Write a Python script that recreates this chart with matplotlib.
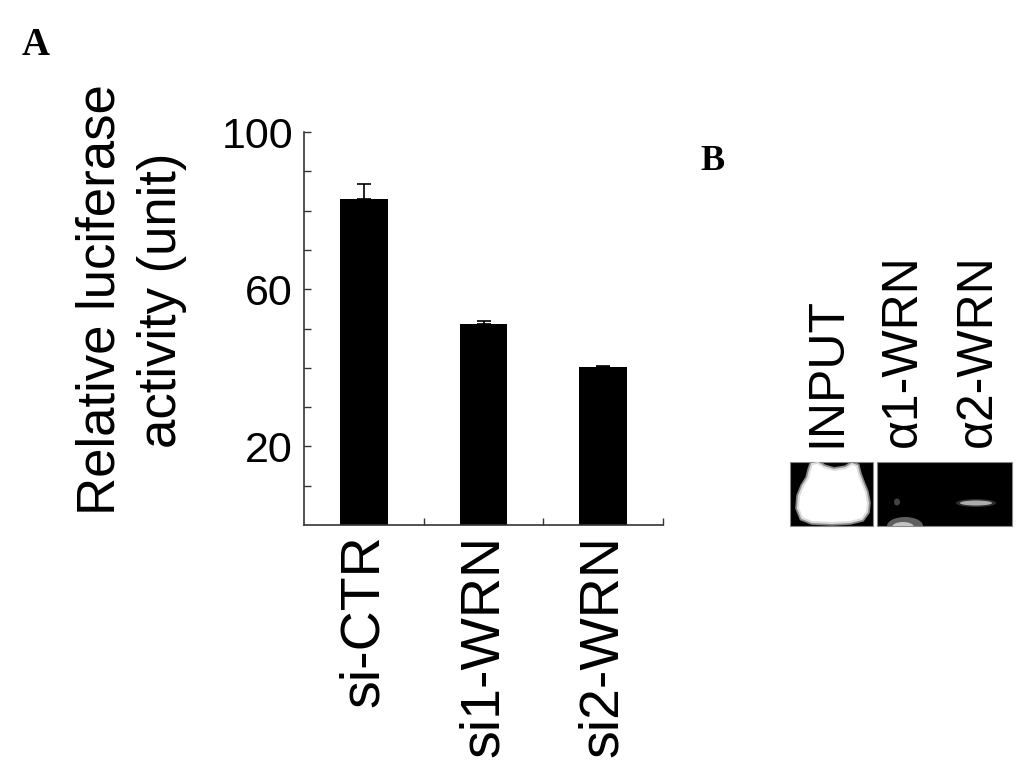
import numpy as np
import matplotlib
matplotlib.use("Agg")
import matplotlib.pyplot as plt
from matplotlib.patches import Rectangle, Polygon, Ellipse

# Panel A data
groups = ["si-CTR", "si1-WRN", "si2-WRN"]
activity = [83.0, 51.1, 40.2]
activity_err = [3.8, 0.8, 0.3]
ytick_vals = [10, 20, 30, 40, 50, 60, 70, 80, 90, 100]
ytick_labels = ["", "20", "", "", "", "60", "", "", "", "100"]

# Panel B lane labels
lanes = ["INPUT", "\u03b11-WRN", "\u03b12-WRN"]

plt.rcParams["font.family"] = ["Liberation Sans", "DejaVu Sans"]

W, H = 1033, 771
fig = plt.figure(figsize=(W / 100, H / 100), dpi=100)

def fx(px):
    return px / W

def fy(py):
    return 1 - py / H

# ---- panel A: bar chart
ax = fig.add_axes([fx(304), fy(525), fx(663) - fx(304), fy(132) - fy(525)])
x = np.arange(1, len(groups) + 1)
ax.bar(x, activity, width=0.4, color="black", zorder=2)
ax.errorbar(x, activity, yerr=[np.zeros(len(groups)), activity_err], fmt="none",
            ecolor="black", elinewidth=1.2, capsize=5, capthick=1.2, zorder=3)
ax.set_xlim(0.5, 3.5)
ax.set_ylim(0, 100)
ax.set_xticks(x)
ax.set_xticklabels(groups, rotation=90, fontsize=40)
ax.set_xticks([1.5, 2.5, 3.5], minor=True)
ax.tick_params(axis="x", which="major", length=0, pad=7)
ax.tick_params(axis="x", which="minor", direction="in", length=5, width=1, color="#333333")
ax.set_yticks(ytick_vals)
ax.set_yticklabels(ytick_labels, fontsize=31)
ax.tick_params(axis="y", direction="in", length=5, width=1, color="#333333", pad=8)
for s in ["top", "right"]:
    ax.spines[s].set_visible(False)
for s in ["left", "bottom"]:
    ax.spines[s].set_color("#333333")
    ax.spines[s].set_linewidth(1.2)

fig.text(fx(131), fy(300), "Relative luciferase\nactivity (unit)", rotation=90,
         ha="center", va="center", multialignment="center", fontsize=38, linespacing=1.3)

fig.text(fx(22), fy(55), "A", fontsize=28, fontweight="bold", family="Liberation Serif")
fig.text(fx(700), fy(170), "B", fontsize=26, fontweight="bold", family="Liberation Serif")

# ---- panel B: blot
bx = fig.add_axes([fx(780), fy(535), fx(1020) - fx(780), fy(455) - fy(535)])
bx.set_xlim(780, 1020)
bx.set_ylim(535, 455)
bx.axis("off")
box1 = Rectangle((790, 462), 83, 64, facecolor="black", edgecolor="#888888", lw=0.8)
box2 = Rectangle((877, 462), 135, 64, facecolor="black", edgecolor="#888888", lw=0.8)
bx.add_patch(box1)
bx.add_patch(box2)
band = [(812, 464), (818, 463), (824, 467), (834, 470), (846, 468), (852, 464), (857, 466),
        (859, 474), (862, 482), (866, 492), (868, 503), (867, 512), (862, 519), (850, 522),
        (832, 523), (812, 522), (802, 518), (798, 508), (799, 496), (803, 486), (808, 478),
        (810, 470)]
glow = bx.add_patch(Polygon(band, closed=True, facecolor="none", edgecolor="#888888", lw=4))
glow.set_clip_path(box1)
bx.add_patch(Polygon(band, closed=True, facecolor="white", edgecolor="#dddddd", lw=1.5))
spots = [((976, 503), 40, 8, "#777777", 0.4), ((976, 503), 32, 5, "#bbbbbb", 0.9),
         ((897, 502), 6, 7, "#555555", 0.8), ((905, 526), 36, 18, "#888888", 0.7),
         ((903, 527), 22, 10, "#dddddd", 0.8)]
for c, w, h, col, a in spots:
    e = bx.add_patch(Ellipse(c, w, h, facecolor=col, edgecolor="none", alpha=a))
    e.set_clip_path(box2)

for lx, lab in zip([827, 903, 978], lanes):
    fig.text(fx(lx), fy(447), lab, rotation=90, ha="center", va="bottom", fontsize=36)

fig.savefig("out.png", dpi=100)
